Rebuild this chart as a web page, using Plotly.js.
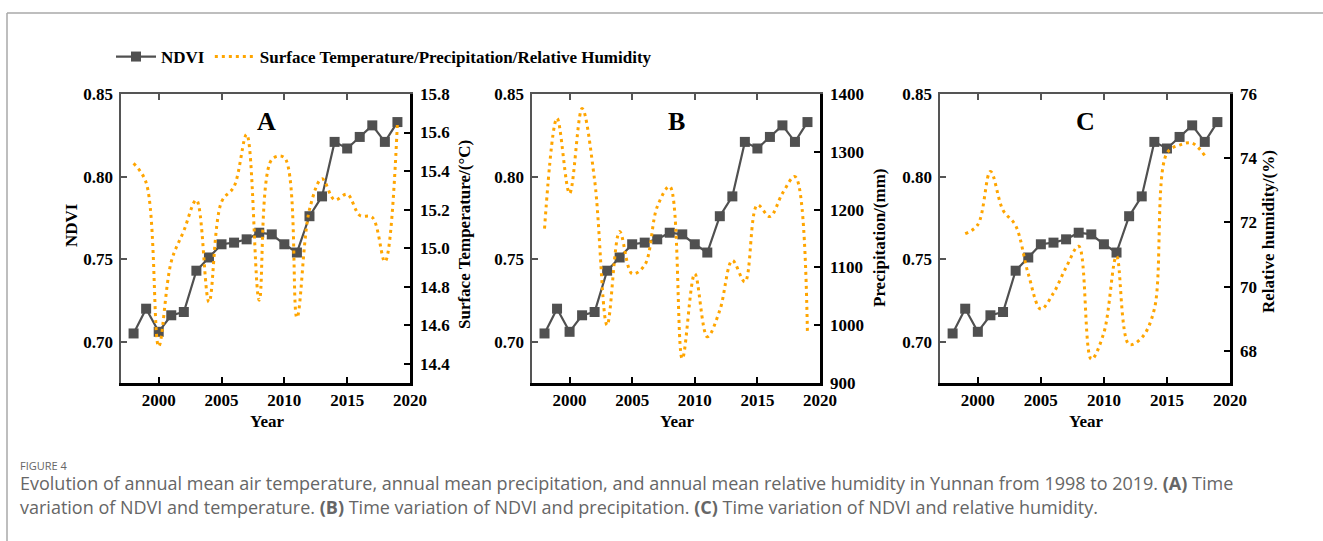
<!DOCTYPE html>
<html>
<head>
<meta charset="utf-8">
<script src="https://cdn.plot.ly/plotly-3.0.1.min.js"></script>
<style>
  html, body { margin: 0; padding: 0; background: #fff; }
  #chart { width: 1323px; height: 541px; }
</style>
</head>
<body>
<div id="chart"></div>
<script>
// Annual series for Yunnan, 1998-2019
const years = [1998, 1999, 2000, 2001, 2002, 2003, 2004, 2005, 2006, 2007, 2008,
               2009, 2010, 2011, 2012, 2013, 2014, 2015, 2016, 2017, 2018, 2019];
const ndvi = [0.705, 0.720, 0.706, 0.716, 0.718, 0.743, 0.751, 0.759, 0.760, 0.762, 0.766,
              0.765, 0.759, 0.754, 0.776, 0.788, 0.821, 0.817, 0.824, 0.831, 0.821, 0.833];
const temperature = [15.44, 15.34, 14.49, 14.93, 15.09, 15.25, 14.72, 15.24, 15.32, 15.59, 14.73,
                     15.46, 15.47, 14.64, 15.20, 15.36, 15.25, 15.28, 15.17, 15.16, 14.93, 15.65];
const precipitation = [1167, 1358, 1228, 1375, 1251, 1000, 1162, 1089, 1104, 1205, 1240,
                       942, 1089, 980, 1026, 1112, 1075, 1208, 1188, 1228, 1257, 983];
const humidityYears = [1999, 2000, 2001, 2002, 2003, 2004, 2005, 2006, 2007, 2008,
                       2009, 2010, 2011, 2012, 2013, 2014, 2015, 2016, 2017, 2018];
const humidity = [71.65, 71.93, 73.59, 72.38, 71.90, 70.40, 69.30, 69.80, 70.60, 71.26,
                  67.74, 68.57, 70.95, 68.20, 68.41, 69.30, 74.16, 74.41, 74.47, 74.08];

const ndviTicks = [0.70, 0.75, 0.80, 0.85];
const panelLetters = ['A', 'B', 'C'];
const climateTitles = ['Surface Temperature/(°C)', 'Precipitation/(mm)', 'Relative humidity/(%)'];
const ndviName = 'NDVI';
const climateName = 'Surface Temperature/Precipitation/Relative Humidity';

// page geometry helpers (pixels -> paper fractions)
const W = 1323, H = 541;
const px = v => v / W;
const py = v => 1 - v / H;

const SERIF = 'Liberation Serif, Times New Roman, serif';
const GREY = '#555555';
const ORANGE = '#FFA500';
const tickFont = { family: SERIF, size: 17, color: '#000', weight: 'bold' };

const yDomain = [py(383), py(94)];
const panels = [
  { x0: 121, x1: 410, climate: temperature, cx: years, range: [14.3, 15.8], dtick: 0.2, fmt: '.1f' },
  { x0: 532, x1: 820, climate: precipitation, cx: years, range: [900, 1400], dtick: 100, fmt: 'd' },
  { x0: 940, x1: 1230, climate: humidity, cx: humidityYears, range: [67, 76], dtick: 2, fmt: 'd' }
];

const data = [];
const layout = {
  width: W, height: H,
  margin: { l: 0, r: 0, t: 0, b: 0 },
  paper_bgcolor: '#fff', plot_bgcolor: 'rgba(0,0,0,0)',
  showlegend: true,
  legend: {
    orientation: 'h', x: px(111), y: py(57), xanchor: 'left', yanchor: 'middle',
    font: { family: SERIF, size: 17, color: '#000' },
    bgcolor: 'rgba(0,0,0,0)', itemwidth: 40, tracegroupgap: 0
  },
  annotations: [],
  shapes: [
    { type: 'line', xref: 'paper', yref: 'paper', x0: px(7), x1: 1, y0: py(13), y1: py(13),
      line: { color: '#a8a8a8', width: 1.5 } },
    { type: 'line', xref: 'paper', yref: 'paper', x0: px(7), x1: px(7), y0: py(13), y1: 0,
      line: { color: '#a8a8a8', width: 1.5 } }
  ]
};

panels.forEach((p, i) => {
  const xb = i + 1;          // bottom x axis
  const xt = i + 4;          // top x axis (frame)
  const yl = 2 * i + 1;      // left NDVI axis
  const yr = 2 * i + 2;      // right climate axis
  const id = n => (n === 1 ? '' : String(n));
  const xName = 'x' + id(xb), xtName = 'x' + id(xt);
  const ylName = 'y' + id(yl), yrName = 'y' + id(yr);
  const domain = [px(p.x0), px(p.x1)];

  layout['xaxis' + id(xb)] = {
    domain, anchor: ylName, range: [1997, 2020], tick0: 2000, dtick: 5,
    ticks: 'inside', ticklen: 6, tickwidth: 2, tickcolor: '#000',
    showline: true, linecolor: '#000', linewidth: 2.5,
    showgrid: false, zeroline: false, tickfont: tickFont, ticklabelstandoff: 0
  };
  layout['xaxis' + id(xt)] = {
    domain, anchor: ylName, overlaying: xName, side: 'top', range: [1997, 2020],
    tick0: 2000, dtick: 5, ticks: 'inside', ticklen: 6, tickwidth: 2, tickcolor: GREY,
    showline: true, linecolor: GREY, linewidth: 2.5, showticklabels: false,
    showgrid: false, zeroline: false
  };
  layout['yaxis' + id(yl)] = {
    domain: yDomain, anchor: xName, range: [0.675, 0.85], tickvals: ndviTicks,
    tickformat: '.2f', ticks: 'inside', ticklen: 6, tickwidth: 2, tickcolor: GREY,
    showline: true, linecolor: GREY, linewidth: 2.5,
    showgrid: false, zeroline: false, tickfont: tickFont, ticklabelstandoff: 2
  };
  layout['yaxis' + id(yr)] = {
    domain: yDomain, anchor: xName, overlaying: ylName, side: 'right', range: p.range,
    dtick: p.dtick, tickformat: p.fmt, ticks: 'inside', ticklen: 6, tickwidth: 2, tickcolor: '#000',
    showline: true, linecolor: '#000', linewidth: 2.5,
    showgrid: false, zeroline: false, tickfont: tickFont, ticklabelstandoff: 4
  };

  // NDVI series
  data.push({
    type: 'scatter', mode: 'lines+markers', x: years, y: ndvi,
    xaxis: xName, yaxis: ylName, name: '<b>' + ndviName + '</b>',
    showlegend: i === 0, legendgroup: 'ndvi',
    line: { color: '#505050', width: 2.2 },
    marker: { symbol: 'square', size: 10, color: '#505050' },
    hoverinfo: 'skip'
  });
  // climate series
  data.push({
    type: 'scatter', mode: 'lines', x: p.cx, y: p.climate,
    xaxis: xName, yaxis: yrName, name: '<b>' + climateName + '</b>',
    showlegend: i === 0, legendgroup: 'climate',
    line: { color: ORANGE, width: 3, dash: '3px,4px', shape: 'spline', smoothing: 1 },
    hoverinfo: 'skip'
  });
  // empty trace so the top frame axis gets a subplot
  data.push({
    type: 'scatter', mode: 'lines', x: [], y: [], xaxis: xtName, yaxis: ylName,
    showlegend: false, hoverinfo: 'skip'
  });

  const cx = (p.x0 + p.x1) / 2;
  layout.annotations.push({
    xref: 'paper', yref: 'paper', x: px(cx + 0.5), y: py(122), xanchor: 'center', yanchor: 'middle',
    text: '<b>' + panelLetters[i] + '</b>', showarrow: false,
    font: { family: SERIF, size: 26, color: '#000' }
  });
  layout.annotations.push({
    xref: 'paper', yref: 'paper', x: px(cx + 1), y: py(421), xanchor: 'center', yanchor: 'middle',
    text: '<b>Year</b>', showarrow: false,
    font: { family: SERIF, size: 17, color: '#000' }
  });
});

// vertical axis titles
const vTitles = [
  { text: 'NDVI', x: 72, y: 225 },
  { text: climateTitles[0], x: 465, y: 235 },
  { text: climateTitles[1], x: 879, y: 238 },
  { text: climateTitles[2], x: 1268, y: 232 }
];
vTitles.forEach(t => layout.annotations.push({
  xref: 'paper', yref: 'paper', x: px(t.x), y: py(t.y), xanchor: 'center', yanchor: 'middle',
  text: '<b>' + t.text + '</b>', textangle: -90, showarrow: false,
  font: { family: SERIF, size: 17, color: '#000' }
}));

// figure caption
const CAP = 'Open Sans, Noto Sans, sans-serif';
layout.annotations.push({
  xref: 'paper', yref: 'paper', x: px(18), y: py(465), xanchor: 'left', yanchor: 'middle',
  text: 'FIGURE 4', showarrow: false, font: { family: CAP, size: 11, color: '#666' }
});
layout.annotations.push({
  xref: 'paper', yref: 'paper', x: px(18), y: py(483), xanchor: 'left', yanchor: 'middle',
  text: 'Evolution of annual mean air temperature, annual mean precipitation, and annual mean relative humidity in Yunnan from 1998 to 2019. <b>(A)</b> Time',
  showarrow: false, font: { family: CAP, size: 18, color: '#666' }
});
layout.annotations.push({
  xref: 'paper', yref: 'paper', x: px(18), y: py(507), xanchor: 'left', yanchor: 'middle',
  text: 'variation of NDVI and temperature. <b>(B)</b> Time variation of NDVI and precipitation. <b>(C)</b> Time variation of NDVI and relative humidity.',
  showarrow: false, font: { family: CAP, size: 18, color: '#666' }
});

Plotly.newPlot('chart', data, layout, { staticPlot: true, displayModeBar: false });
</script>
</body>
</html>
